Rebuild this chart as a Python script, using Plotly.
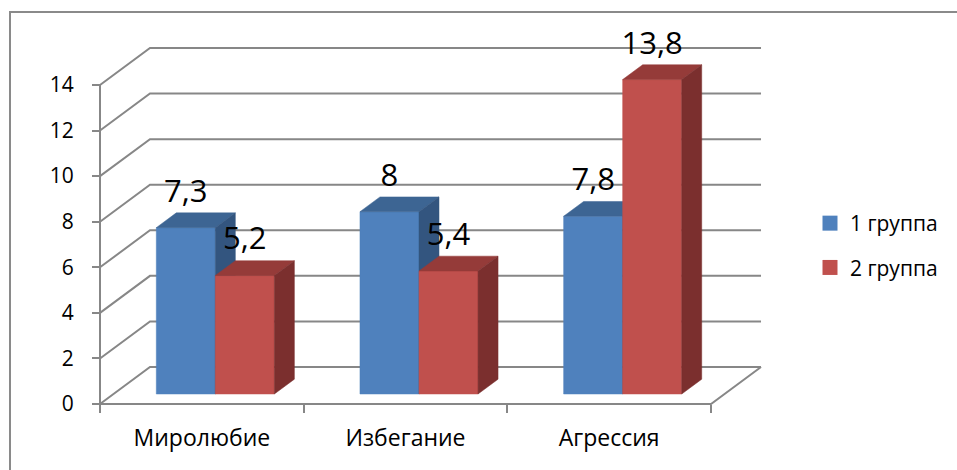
import plotly.graph_objects as go

# ---------------- data ----------------
categories = ["Миролюбие", "Избегание", "Агрессия"]
series_names = ["1 группа", "2 группа"]
group1 = [7.3, 8.0, 7.8]
group2 = [5.2, 5.4, 13.8]
y_ticks = [0, 2, 4, 6, 8, 10, 12, 14]

# ---------------- styling / geometry ----------------
W, H = 957, 470
FONT = "Open Sans"
X0_PX, X_UNIT_PX = 100.0, 203.67      # pixel of category 0 edge, pixels per category
Y0_PX, Y_UNIT_PX = 404.0, 22.786      # pixel of value 0, pixels per value unit
DX = 50.0 / X_UNIT_PX                 # full depth shift (right)
DY = 37.0 / Y_UNIT_PX                 # full depth shift (up)
T0, T1 = 0.27, 0.67                   # bar front/back depth fraction
GAP = 1.45                            # gap width relative to bar width
GRID = "#878787"
face_cols = [
    {"front": "#4F81BD", "top": "#3D6593", "side": "#33557F"},
    {"front": "#C0504D", "top": "#953B39", "side": "#7B2F2E"},
]

x_range = [-X0_PX / X_UNIT_PX, (W - X0_PX) / X_UNIT_PX]
y_range = [-(H - Y0_PX) / Y_UNIT_PX, Y0_PX / Y_UNIT_PX]
n_cat = len(categories)
ymax = max(y_ticks)


def P(x, v, t):
    return x + t * DX, v + t * DY


fig = go.Figure()

# walls / gridlines
gx, gy = [], []
for v in y_ticks:
    for (x, vv, t) in [(0, v, 0), (0, v, 1), (n_cat, v, 1)]:
        px, py = P(x, vv, t)
        gx.append(px); gy.append(py)
    gx.append(None); gy.append(None)
for (x, vv, t) in [(0, 0, 0), (n_cat, 0, 0), (n_cat, 0, 1)]:
    px, py = P(x, vv, t)
    gx.append(px); gy.append(py)
gx.append(None); gy.append(None)
gx += [0, 0]; gy += [0, ymax]
fig.add_trace(go.Scatter(x=gx, y=gy, mode="lines", line=dict(color=GRID, width=2),
                         hoverinfo="skip", showlegend=False))

# bars
series = [group1, group2]
w = 1.0 / (len(series) + GAP)
lab_x, lab_y, lab_t = [], [], []
for i in range(n_cat):
    for s, vals in enumerate(series):
        val = vals[i]
        xl = i + GAP * w / 2 + s * w
        xr = xl + w
        faces = {
            "front": [P(xl, 0, T0), P(xr, 0, T0), P(xr, val, T0), P(xl, val, T0)],
            "top": [P(xl, val, T0), P(xr, val, T0), P(xr, val, T1), P(xl, val, T1)],
            "side": [P(xr, 0, T0), P(xr, 0, T1), P(xr, val, T1), P(xr, val, T0)],
        }
        for fname in ["front", "top", "side"]:
            pts = faces[fname] + [faces[fname][0]]
            col = face_cols[s][fname]
            fig.add_trace(go.Scatter(
                x=[p[0] for p in pts], y=[p[1] for p in pts], mode="lines",
                fill="toself", fillcolor=col, line=dict(color=col, width=0.5),
                hoverinfo="skip", showlegend=False))
        cx, _ = P((xl + xr) / 2, val, T0)
        lab_x.append(cx)
        lab_y.append(val + T1 * DY + 19.0 / Y_UNIT_PX)
        lab_t.append(f"{val:g}".replace(".", ","))

fig.add_trace(go.Scatter(x=lab_x, y=lab_y, text=lab_t, mode="text",
                         textposition="middle center",
                         textfont=dict(family=FONT, size=31, color="black"),
                         cliponaxis=False, hoverinfo="skip", showlegend=False))

# legend entries
for s, name in enumerate(series_names):
    fig.add_trace(go.Scatter(x=[None], y=[None], mode="markers", name=name,
                             legendgroup=name,
                             marker=dict(symbol="square", size=15, color=face_cols[s]["front"])))

fig.update_layout(
    width=W, height=H,
    margin=dict(l=0, r=0, t=0, b=0),
    paper_bgcolor="white", plot_bgcolor="white",
    font=dict(family=FONT, color="black"),
    xaxis=dict(range=x_range, domain=[0, 1], anchor="free", position=(H - Y0_PX) / H,
               showgrid=False, zeroline=False, showline=False,
               tickmode="array", tickvals=[i + 0.5 for i in range(n_cat)], ticktext=categories,
               ticks="", tickfont=dict(family=FONT, size=23, color="black"),
               ticklabelstandoff=18,
               minor=dict(tickmode="array", tickvals=list(range(n_cat + 1)), ticks="outside",
                          ticklen=8, tickwidth=2, tickcolor=GRID, showgrid=False)),
    yaxis=dict(range=y_range, domain=[0, 1], anchor="free", position=X0_PX / W,
               showgrid=False, zeroline=False, showline=False,
               tickmode="array", tickvals=y_ticks, ticks="outside", ticklen=8, tickwidth=2,
               tickcolor=GRID, tickfont=dict(family=FONT, size=21, color="black"),
               ticklabelstandoff=14),
    legend=dict(x=810 / W, y=1 - 203 / H, xanchor="left", yanchor="top",
                font=dict(family=FONT, size=21, color="black"),
                tracegroupgap=14, traceorder="grouped", bgcolor="rgba(0,0,0,0)"),
    shapes=[dict(type="rect", xref="paper", yref="paper", x0=10 / W, x1=1.02,
                 y0=-0.02, y1=1 - 12 / H, line=dict(color="#8A8A8A", width=2),
                 fillcolor="rgba(0,0,0,0)", layer="above")],
)

fig.write_html("out.html")
